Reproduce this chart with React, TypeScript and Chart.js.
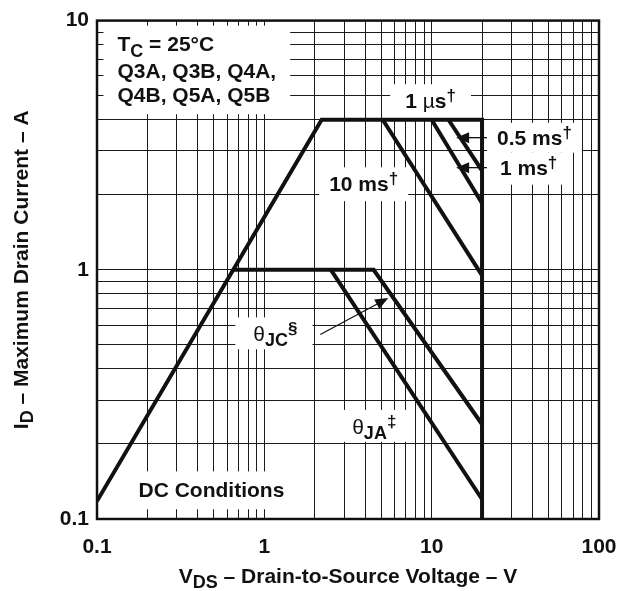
import React, { useEffect, useRef } from 'react';
import { Chart, registerables } from 'chart.js';

Chart.register(...registerables);

// ---- axis ticks ----
const xTickValues = [0.1, 1, 10, 100];
const xTickLabels = ['0.1', '1', '10', '100'];
const yTickValues = [0.1, 1, 10];
const yTickLabels = ['0.1', '1', '10'];

// ---- curves (VDS in V, ID in A) ----
const soaX = [0.1, 2.2, 20, 20];
const soaY = [0.118, 4, 4, 0.1];
const ms10X = [5.1, 20];
const ms10Y = [4, 0.95];
const ms1X = [10, 20];
const ms1Y = [4, 1.85];
const ms05X = [12.6, 20];
const ms05Y = [4, 2.5];
const jcX = [0.66, 4.5, 20];
const jcY = [1, 1, 0.24];
const jaX = [2.5, 20];
const jaY = [1, 0.12];

const FONT = "'Liberation Sans', Arial, Helvetica, sans-serif";
const FS = 21;

type Seg = { t: string; k?: 'sub' | 'sup' | 'sym' };

// annotations anchored in data coordinates (left x, baseline y)
const notes: { x: number; pad: number[]; lines: { y: number; segs: Seg[] }[] }[] = [
  {
    x: 0.1325, pad: [14, 10, 14, 10],
    lines: [
      { y: 7.52, segs: [{ t: 'T' }, { t: 'C', k: 'sub' }, { t: ' = 25°C' }] },
      { y: 5.87, segs: [{ t: 'Q3A, Q3B, Q4A,' }] },
      { y: 4.71, segs: [{ t: 'Q4B, Q5A, Q5B' }] },
    ],
  },
  { x: 6.95, pad: [15, 8, 15, 8], lines: [{ y: 4.46, segs: [{ t: '1 ' }, { t: 'µ', k: 'sym' }, { t: 's' }, { t: '†', k: 'sup' }] }] },
  { x: 24.6, pad: [10, 6, 10, 6], lines: [{ y: 3.18, segs: [{ t: '0.5 ms' }, { t: '†', k: 'sup' }] }] },
  { x: 25.6, pad: [12, 6, 12, 8], lines: [{ y: 2.41, segs: [{ t: '1 ms' }, { t: '†', k: 'sup' }] }] },
  { x: 2.44, pad: [10, 8, 10, 8], lines: [{ y: 2.07, segs: [{ t: '10 ms' }, { t: '†', k: 'sup' }] }] },
  { x: 0.86, pad: [18, 8, 15, 6], lines: [{ y: 0.517, segs: [{ t: 'θ', k: 'sym' }, { t: 'JC', k: 'sub' }, { t: '§', k: 'sup' }] }] },
  { x: 3.35, pad: [12, 8, 12, 6], lines: [{ y: 0.22, segs: [{ t: 'θ', k: 'sym' }, { t: 'JA', k: 'sub' }, { t: '‡', k: 'sup' }] }] },
  { x: 0.177, pad: [6, 10, 8, 10], lines: [{ y: 0.1224, segs: [{ t: 'DC Conditions' }] }] },
];

const arrows = [
  { x0: 21.4, y0: 3.39, x1: 14.0, y1: 3.39 },
  { x0: 21.4, y0: 2.57, x1: 14.0, y1: 2.57 },
  { x0: 2.16, y0: 0.55, x1: 5.5, y1: 0.77 },
];

function segStyle(k: Seg['k'], size: number) {
  switch (k) {
    case 'sub':
      return { font: `bold ${Math.round(size * 0.85)}px ${FONT}`, dy: size * 0.25 };
    case 'sup':
      return { font: `bold ${Math.round(size * 0.8)}px ${FONT}`, dy: -size * 0.32 };
    case 'sym':
      return { font: `${size}px ${FONT}`, dy: 0 };
    default:
      return { font: `bold ${size}px ${FONT}`, dy: 0 };
  }
}

function richWidth(ctx: CanvasRenderingContext2D, segs: Seg[], size: number) {
  let w = 0;
  for (const s of segs) {
    ctx.font = segStyle(s.k, size).font;
    w += ctx.measureText(s.t).width;
  }
  return w;
}

function drawRich(ctx: CanvasRenderingContext2D, segs: Seg[], x: number, y: number, size: number) {
  let cx = x;
  for (const s of segs) {
    const st = segStyle(s.k, size);
    ctx.font = st.font;
    ctx.fillText(s.t, cx, y + st.dy);
    cx += ctx.measureText(s.t).width;
  }
}

function makeTicks(min: number, max: number) {
  const out: number[] = [];
  for (let e = Math.round(Math.log10(min)); e < Math.round(Math.log10(max)); e++) {
    for (let m = 1; m <= 9; m++) out.push(parseFloat((m * Math.pow(10, e)).toPrecision(6)));
  }
  out.push(max);
  return out;
}

function labelFor(values: number[], labels: string[], v: number) {
  for (let i = 0; i < values.length; i++) {
    if (Math.abs(Math.log10(values[i]) - Math.log10(v)) < 1e-6) return labels[i];
  }
  return '';
}

const toPts = (xs: number[], ys: number[]) => xs.map((x, i) => ({ x, y: ys[i] }));

const annotPlugin = {
  id: 'annot',
  beforeDatasetsDraw(chart: any) {
    const ctx: CanvasRenderingContext2D = chart.ctx;
    const xs = chart.scales.x;
    const ys = chart.scales.y;
    ctx.save();
    ctx.fillStyle = '#ffffff';
    for (const n of notes) {
      const left = xs.getPixelForValue(n.x);
      let w = 0;
      let top = Infinity;
      let bottom = -Infinity;
      for (const l of n.lines) {
        w = Math.max(w, richWidth(ctx, l.segs, FS));
        const by = ys.getPixelForValue(l.y);
        top = Math.min(top, by - FS * 0.75);
        bottom = Math.max(bottom, by + FS * 0.1);
      }
      const [pl, pt, pr, pb] = n.pad;
      ctx.fillRect(left - pl, top - pt, w + pl + pr, bottom - top + pt + pb);
    }
    ctx.restore();
  },
  afterDatasetsDraw(chart: any) {
    const ctx: CanvasRenderingContext2D = chart.ctx;
    const xs = chart.scales.x;
    const ys = chart.scales.y;
    ctx.save();
    ctx.fillStyle = '#111111';
    ctx.strokeStyle = '#111111';
    ctx.textAlign = 'left';
    ctx.textBaseline = 'alphabetic';
    for (const n of notes) {
      const left = xs.getPixelForValue(n.x);
      for (const l of n.lines) drawRich(ctx, l.segs, left, ys.getPixelForValue(l.y), FS);
    }
    for (const a of arrows) {
      const x0 = xs.getPixelForValue(a.x0);
      const y0 = ys.getPixelForValue(a.y0);
      const x1 = xs.getPixelForValue(a.x1);
      const y1 = ys.getPixelForValue(a.y1);
      const ang = Math.atan2(y1 - y0, x1 - x0);
      const L = 13;
      const H = 5.5;
      ctx.lineWidth = 1.3;
      ctx.beginPath();
      ctx.moveTo(x0, y0);
      ctx.lineTo(x1 - Math.cos(ang) * L * 0.8, y1 - Math.sin(ang) * L * 0.8);
      ctx.stroke();
      ctx.beginPath();
      ctx.moveTo(x1, y1);
      ctx.lineTo(x1 - Math.cos(ang) * L - Math.sin(ang) * H, y1 - Math.sin(ang) * L + Math.cos(ang) * H);
      ctx.lineTo(x1 - Math.cos(ang) * L + Math.sin(ang) * H, y1 - Math.sin(ang) * L - Math.cos(ang) * H);
      ctx.closePath();
      ctx.fill();
    }
    ctx.restore();
  },
  afterDraw(chart: any) {
    const ctx: CanvasRenderingContext2D = chart.ctx;
    const a = chart.chartArea;
    ctx.save();
    ctx.strokeStyle = '#111111';
    ctx.lineWidth = 2.5;
    ctx.strokeRect(a.left, a.top, a.right - a.left, a.bottom - a.top);
    ctx.fillStyle = '#111111';
    ctx.textBaseline = 'alphabetic';
    ctx.textAlign = 'left';
    // x title
    const xt: Seg[] = [{ t: 'V' }, { t: 'DS', k: 'sub' }, { t: ' – Drain-to-Source Voltage – V' }];
    const xw = richWidth(ctx, xt, FS);
    drawRich(ctx, xt, (a.left + a.right) / 2 - xw / 2, 583, FS);
    // y title
    const yt: Seg[] = [{ t: 'I' }, { t: 'D', k: 'sub' }, { t: ' – Maximum Drain Current – A' }];
    const yw = richWidth(ctx, yt, FS);
    ctx.translate(28, (a.top + a.bottom) / 2);
    ctx.rotate(-Math.PI / 2);
    drawRich(ctx, yt, -yw / 2, 0, FS);
    ctx.restore();
  },
};

export default function App() {
  const ref = useRef<HTMLCanvasElement | null>(null);
  useEffect(() => {
    if (!ref.current) return;
    const line = (xs: number[], ys: number[]) => ({
      data: toPts(xs, ys),
      showLine: true,
      borderColor: '#111111',
      borderWidth: 4,
      pointRadius: 0,
      fill: false,
      tension: 0,
      borderJoinStyle: 'miter' as const,
    });
    const tickFont = { family: FONT, size: FS, weight: 'bold' as const };
    const chart = new Chart(ref.current, {
      type: 'scatter',
      data: {
        datasets: [
          { label: '1 µs', ...line(soaX, soaY) },
          { label: '10 ms', ...line(ms10X, ms10Y) },
          { label: '1 ms', ...line(ms1X, ms1Y) },
          { label: '0.5 ms', ...line(ms05X, ms05Y) },
          { label: 'θJC', ...line(jcX, jcY) },
          { label: 'θJA', ...line(jaX, jaY) },
        ],
      },
      options: {
        animation: false,
        responsive: true,
        maintainAspectRatio: false,
        layout: { padding: { top: 18, right: 22, left: 0, bottom: 0 } },
        plugins: { legend: { display: false }, tooltip: { enabled: false } },
        scales: {
          x: {
            type: 'logarithmic',
            min: 0.1,
            max: 100,
            afterBuildTicks: (s: any) => {
              s.ticks = makeTicks(0.1, 100).map((v) => ({ value: v }));
            },
            afterFit: (s: any) => {
              s.height = 72;
            },
            ticks: {
              autoSkip: false,
              maxRotation: 0,
              minRotation: 0,
              padding: 0,
              color: '#111111',
              font: tickFont,
              callback: (v: any) => labelFor(xTickValues, xTickLabels, Number(v)),
            },
            grid: { color: '#1a1a1a', lineWidth: 1, drawTicks: true, tickLength: 16, tickColor: 'rgba(0,0,0,0)' },
            border: { display: false },
          },
          y: {
            type: 'logarithmic',
            min: 0.1,
            max: 10,
            afterBuildTicks: (s: any) => {
              s.ticks = makeTicks(0.1, 10).map((v) => ({ value: v }));
            },
            afterFit: (s: any) => {
              s.width = 97;
            },
            ticks: {
              autoSkip: false,
              padding: 8,
              color: '#111111',
              font: tickFont,
              callback: (v: any) => labelFor(yTickValues, yTickLabels, Number(v)),
            },
            grid: { color: '#1a1a1a', lineWidth: 1, drawTicks: false },
            border: { display: false },
          },
        },
      },
      plugins: [annotPlugin],
    } as any);
    return () => chart.destroy();
  }, []);
  return (
    <div style={{ position: 'absolute', left: 0, top: 0, width: 621, height: 591, background: '#fff' }}>
      <canvas ref={ref} />
    </div>
  );
}
